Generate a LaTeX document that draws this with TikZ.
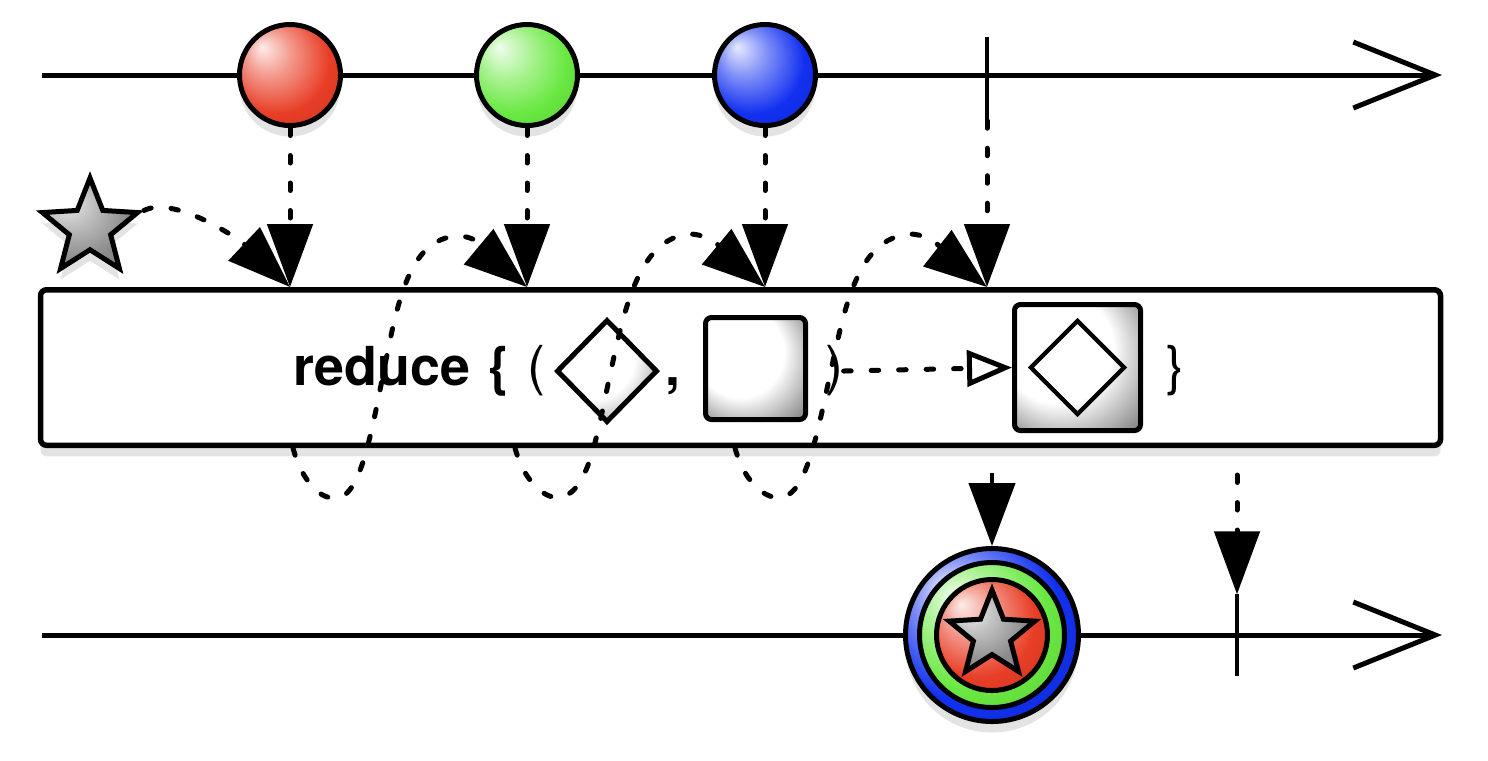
\documentclass[tikz,border=0pt]{standalone}
\usepackage{fontspec}
\setmainfont{TeX Gyre Heros}
\usetikzlibrary{arrows.meta,shapes.geometric,shadows}

\definecolor{marbred}{RGB}{232,62,38}
\definecolor{marbgreen}{RGB}{105,232,65}
\definecolor{marbblue}{RGB}{18,48,240}
\colorlet{marblecol}{gray}
\pgfdeclareradialshading[marblecol]{marble}{\pgfpoint{-14bp}{14bp}}{%
  color(0bp)=(marblecol!10!white); color(12bp)=(marblecol!55!white);
  color(26bp)=(marblecol); color(42bp)=(marblecol!85!black);
  color(50bp)=(marblecol!65!black)}
\pgfdeclareradialshading{sheen}{\pgfpoint{-14bp}{14bp}}{%
  color(0bp)=(white); color(22bp)=(white); color(34bp)=(black!35);
  color(42bp)=(black!60); color(50bp)=(black!92)}

\tikzset{
  axis/.style={line width=0.5mm, -{Straight Barb[length=8.2mm, width=6.6mm]}},
  endtick/.style={inner sep=0, minimum width=0, minimum height=8.2mm},
  flow/.style={line width=0.5mm, line cap=round, dash pattern=on 0.75mm off 2mm},
  feed/.style={flow, -{Triangle[length=6.3mm, width=4.5mm]}},
  marble/.style={shade, shading=marble, /utils/exec={\colorlet{marblecol}{#1}}},
  lifted/.style={drop shadow={opacity=0.22, shadow xshift=0mm, shadow yshift=-1.1mm}},
  ev/.style={circle, draw, line width=0.5mm, minimum size=10.1mm, inner sep=0},
  seedstar/.style={star, star points=5, star point ratio=2.3, draw, line width=0.5mm, inner sep=0},
  opbox/.style={draw, line width=0.55mm, fill=white, rounded corners=0.6mm,
    minimum width=140mm, minimum height=15.55mm, lifted},
  token/.style={draw, line width=0.5mm, inner sep=0},
  lbl/.style={font=\fontsize{15.3}{18}\selectfont, inner sep=0}
}

\begin{document}
\begin{tikzpicture}[x=0.1mm, y=-0.1mm]
\useasboundingbox (0,0) rectangle (1488,760);
\def\ytop{75}
\def\ybot{635}

% source stream
\coordinate (srcL) at (42,\ytop);
\coordinate (srcR) at (1442,\ytop);
\draw[axis] (srcL) -- (srcR);
\node[endtick] (endA) at (987,79) {};
\draw[line width=0.45mm] (endA.north) -- (endA.south);

\node[ev, marble=marbred, lifted] (evA) at (290,\ytop) {};
\node[ev, marble=marbgreen, lifted] (evB) at (527,\ytop) {};
\node[ev, marble=marbblue, lifted] (evC) at (765,\ytop) {};

% operator box
\node[opbox] (box) at (740.5,367.5) {};

\node[lbl, anchor=base west] (opname) at (293,385) {\bfseries reduce};
\node[lbl] (lbrace) at (499,371) {\bfseries\{};
\node[lbl] (lparen) at (536,371) {(};
\node[token, diamond, shade, shading=sheen, minimum width=10.1mm, minimum height=10.3mm] (acc) at (607,371) {};
\node[lbl, anchor=base] (comma) at (673,385) {\bfseries ,};
\node[token, rounded corners=0.6mm, shade, shading=sheen, minimum width=10mm, minimum height=10.2mm] (item) at (755.5,368.5) {};
\node[lbl] (rparen) at (834,371) {)};
\node[token, rounded corners=0.6mm, shade, shading=sheen, minimum size=12.6mm] (accnew) at (1077.5,367.5) {};
\node[token, diamond, line width=0.42mm, minimum size=9.5mm] (accnewd) at (accnew) {};
\node[lbl] (rbrace) at (1175,371) {\}};

\draw[flow, -{Triangle[open, length=4.5mm, width=3.6mm]}] (rparen.east) -- (accnew.west);

% inputs into the box
\coordinate (inA) at (evA |- box.north);
\coordinate (inB) at (evB |- box.north);
\coordinate (inC) at (evC |- box.north);
\coordinate (inD) at (endA |- box.north);

\draw[feed] (evA) -- (inA);
\draw[feed] (evB) -- (inB);
\draw[feed] (evC) -- (inC);
\draw[feed] (endA.south) -- (inD);

% seed and accumulator loops
\node[seedstar, marble=gray!90, minimum size=10mm, lifted] (seed) at (90,228) {};
\draw[feed] (seed.outer point 5) .. controls (175,195) and (240,240) .. (inA);

\coordinate (outA) at (293,448);
\coordinate (outB) at (515,448);
\coordinate (outC) at (735,448);

\draw[feed] (outA) .. controls (303,485) and (325,505) .. (343,496)
  .. controls (362,485) and (372,430) .. (383,375)
  .. controls (397,305) and (408,238) .. (458,236)
  .. controls (483,236) and (497,262) .. (inB);
\draw[feed] (outB) .. controls (525,485) and (550,505) .. (567,495)
  .. controls (590,483) and (598,430) .. (610,375)
  .. controls (625,305) and (640,238) .. (690,234)
  .. controls (715,234) and (735,262) .. (inC);
\draw[feed] (outC) .. controls (745,485) and (770,505) .. (788,495)
  .. controls (808,483) and (818,430) .. (830,375)
  .. controls (845,305) and (858,238) .. (910,234)
  .. controls (935,234) and (955,262) .. (inD);

% result stream
\coordinate (sinkL) at (42,\ybot);
\coordinate (sinkR) at (1442,\ybot);
\draw[axis] (sinkL) -- (sinkR);
\node[endtick, minimum height=8mm] (endB) at (1237,\ybot) {};
\draw[line width=0.45mm] (endB.north) -- (endB.south);

\node[ev, marble=marbblue, minimum size=17.3mm, lifted] (res) at (992,\ybot) {};
\node[ev, marble=marbgreen, minimum size=14.5mm] (resG) at (res) {};
\node[ev, marble=marbred, minimum size=11.1mm] (resR) at (res) {};
\node[seedstar, marble=gray!90, minimum size=9mm] (resS) at (res) {};

\draw[line width=0.45mm, -{Triangle[length=6.3mm, width=4.6mm]}, shorten <=2.5mm] (box.south -| res) -- (res.north);
\draw[feed, shorten <=2.7mm] (box.south -| endB) -- (endB.north);

\end{tikzpicture}
\end{document}
